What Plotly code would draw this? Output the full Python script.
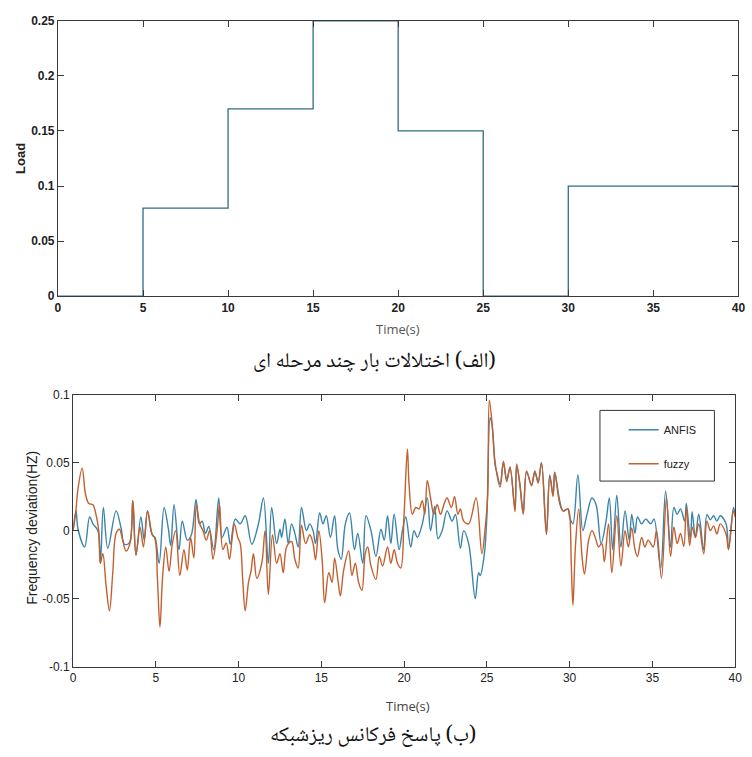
import plotly.graph_objects as go

# ---- multi-step load disturbance ----
load_t = [0, 5, 10, 15, 20, 25, 30, 40]
load_v = [0, 0.08, 0.17, 0.25, 0.15, 0, 0.1, 0.1]

# ---- microgrid frequency response (turning points of each trace) ----
anfis_t = [0.0, 0.18, 0.3, 0.7, 1.0, 1.2, 1.5, 1.65, 1.83, 2.1, 2.6, 2.9, 3.1, 3.4, 3.6, 3.8,
           4.1, 4.3, 4.5, 4.8, 4.95, 5.2, 5.5, 5.75, 5.9, 6.1, 6.4, 6.6, 6.9, 7.15, 7.43, 7.63,
           7.8, 8.0, 8.2, 8.5, 8.8, 9.0, 9.3, 9.5, 9.8, 10.1, 10.4, 10.8, 11.2, 11.5, 11.8, 12.0,
           12.3, 12.5, 12.6, 12.8, 13.0, 13.2, 13.4, 13.6, 13.8, 14.1, 14.3, 14.5, 14.65, 14.9,
           15.1, 15.3, 15.55, 15.8, 16.0, 16.2, 16.45, 16.7, 17.0, 17.2, 17.5, 17.7, 18.0, 18.3,
           18.6, 18.8, 19.0, 19.2, 19.4, 19.7, 19.9, 20.1, 20.4, 20.6, 20.8, 21.1, 21.4, 21.6,
           21.85, 22.05, 22.3, 22.6, 22.9, 23.1, 23.4, 23.6, 23.9, 24.3, 24.5, 24.6, 24.85, 25.0,
           25.2, 25.3, 25.5, 25.6, 25.8, 26.0, 26.2, 26.4, 26.7, 26.8, 27.0, 27.2, 27.4, 27.7,
           27.9, 28.1, 28.3, 28.6, 28.8, 29.0, 29.1, 29.4, 29.6, 29.9, 30.0, 30.2, 30.5, 30.8,
           31.05, 31.35, 31.6, 31.9, 32.2, 32.4, 32.6, 32.85, 33.1, 33.35, 33.6, 33.75, 33.95,
           34.1, 34.35, 34.6, 34.9, 35.1, 35.5, 35.8, 36.1, 36.3, 36.5, 36.7, 36.95, 37.05, 37.3,
           37.4, 37.6, 37.8, 38.1, 38.3, 38.5, 38.7, 38.9, 39.1, 39.45, 39.6, 39.9, 40.0]
anfis_v = [0.0, 0.0145, 0.001, -0.012, 0.010, 0.005, 0.0, -0.024, 0.017, -0.013, 0.0145, 0.002,
           -0.010, -0.009, 0.022, -0.018, 0.010, -0.007, 0.0145, -0.0035, -0.005, -0.024, 0.017,
           0.002, -0.011, 0.019, -0.014, 0.007, -0.007, -0.003, 0.023, 0.005, 0.007, -0.002, 0.003,
           -0.014, 0.024, -0.005, 0.0025, -0.010, 0.0085, 0.005, 0.011, -0.010, 0.005, 0.024,
           -0.024, 0.017, -0.0095, 0.001, -0.005, 0.0085, -0.0095, 0.005, -0.002, -0.012, 0.017,
           0.0, 0.005, 0.0, -0.0095, 0.013, 0.005, 0.011, -0.005, 0.011, -0.014, -0.021, 0.005,
           0.013, -0.014, -0.002, -0.024, 0.011, 0.0, -0.019, 0.001, -0.007, 0.011, -0.0095, 0.012,
           -0.014, 0.0, 0.010, -0.012, 0.0, -0.005, 0.005, 0.024, 0.0, 0.018, -0.006, 0.0, 0.0145,
           0.007, 0.012, -0.013, 0.0, -0.0095, -0.050, -0.031, -0.033, -0.017, 0.010, 0.083, 0.079,
           0.048, 0.043, 0.034, 0.050, 0.038, 0.046, 0.016, 0.048, 0.034, 0.013, 0.043, 0.034,
           0.043, 0.036, 0.050, -0.002, 0.041, 0.026, 0.043, 0.022, 0.0145, 0.016, 0.010, 0.005,
           0.041, 0.0, 0.012, 0.024, 0.019, -0.0095, 0.007, 0.024, -0.014, 0.026, -0.012, 0.0145,
           -0.007, 0.012, -0.002, 0.010, 0.005, 0.0085, 0.005, 0.0085, -0.0275, 0.029, -0.012,
           0.017, 0.012, 0.016, 0.007, 0.020, -0.007, 0.014, -0.005, 0.012, -0.014, 0.012, 0.008,
           0.011, 0.007, 0.011, 0.005, -0.013, 0.017, 0.012]

fuzzy_t = [0.0, 0.15, 0.3, 0.55, 0.75, 0.95, 1.2, 1.4, 1.55, 1.65, 1.8, 2.0, 2.2, 2.4, 2.6, 2.8,
           3.0, 3.2, 3.45, 3.62, 3.8, 4.05, 4.25, 4.5, 4.75, 4.95, 5.1, 5.25, 5.4, 5.6, 5.8, 6.0,
           6.2, 6.45, 6.7, 6.9, 7.1, 7.3, 7.45, 7.65, 7.85, 8.05, 8.25, 8.45, 8.7, 8.85, 9.05,
           9.25, 9.45, 9.6, 9.75, 9.95, 10.1, 10.25, 10.4, 10.6, 10.75, 10.9, 11.1, 11.4, 11.6,
           11.8, 12.05, 12.3, 12.5, 12.7, 12.9, 13.2, 13.4, 13.6, 13.8, 14.05, 14.3, 14.5, 14.65,
           14.85, 15.05, 15.2, 15.45, 15.65, 15.8, 16.0, 16.15, 16.35, 16.65, 16.85, 17.05, 17.25,
           17.45, 17.65, 17.8, 18.0, 18.3, 18.5, 18.7, 19.0, 19.2, 19.4, 19.6, 19.8, 20.0, 20.2,
           20.3, 20.5, 20.7, 20.9, 21.1, 21.25, 21.4, 21.6, 21.8, 22.0, 22.2, 22.4, 22.6, 22.85,
           23.05, 23.25, 23.4, 23.6, 23.9, 24.35, 24.7, 24.9, 25.05, 25.15, 25.35, 25.5, 25.8,
           26.0, 26.2, 26.4, 26.7, 26.8, 27.0, 27.2, 27.4, 27.7, 27.9, 28.1, 28.3, 28.6, 28.8,
           29.0, 29.1, 29.4, 29.6, 29.9, 30.0, 30.1, 30.2, 30.35, 30.55, 30.75, 30.9, 31.15,
           31.35, 31.55, 31.75, 31.95, 32.1, 32.35, 32.55, 32.85, 33.1, 33.35, 33.55, 33.75,
           33.95, 34.1, 34.35, 34.55, 34.75, 35.05, 35.25, 35.55, 35.85, 36.1, 36.3, 36.5, 36.7,
           36.9, 37.05, 37.25, 37.4, 37.6, 37.8, 38.1, 38.3, 38.5, 38.7, 38.9, 39.1, 39.45, 39.6,
           39.9, 40.0]
fuzzy_v = [0.0, 0.012, 0.031, 0.046, 0.027, 0.020, 0.019, 0.011, 0.0, -0.024, -0.017, -0.041,
           -0.059, -0.031, -0.002, 0.001, -0.007, -0.015, -0.009, 0.022, -0.018, 0.0025, -0.012,
           0.0145, -0.002, -0.006, -0.036, -0.071, -0.036, -0.012, -0.030, -0.0095, 0.0, -0.033,
           -0.014, -0.029, -0.005, -0.020, 0.019, 0.005, 0.0, -0.007, 0.0, -0.021, 0.0, 0.019,
           -0.014, -0.009, -0.021, -0.007, 0.005, -0.005, -0.0095, -0.036, -0.059, -0.038, -0.030,
           -0.017, -0.035, -0.024, 0.0, -0.047, -0.003, -0.024, -0.017, -0.031, -0.012, -0.008,
           -0.021, -0.0275, 0.004, -0.0095, -0.003, -0.0095, -0.0215, 0.0, -0.0215, -0.053, -0.031,
           -0.038, -0.020, -0.036, -0.048, -0.029, -0.015, -0.033, -0.024, -0.038, -0.044, -0.017,
           -0.012, -0.026, -0.036, -0.019, -0.026, -0.012, -0.024, -0.014, -0.024, -0.0275, 0.012,
           0.060, 0.034, 0.012, 0.017, 0.016, 0.022, 0.012, 0.037, 0.024, 0.012, 0.019, 0.012,
           0.019, 0.024, 0.017, 0.025, 0.012, 0.016, 0.007, 0.005, 0.024, -0.017, 0.002, 0.026,
           0.096, 0.074, 0.050, 0.032, 0.051, 0.036, 0.047, 0.014, 0.049, 0.033, 0.012, 0.044,
           0.033, 0.044, 0.035, 0.050, -0.003, 0.040, 0.025, 0.043, 0.020, 0.0145, 0.016, 0.012,
           -0.024, -0.055, -0.012, 0.016, -0.019, -0.032, -0.007, 0.0, -0.005, -0.012, -0.0095,
           -0.023, 0.005, -0.031, 0.011, -0.026, 0.0, -0.012, 0.002, -0.014, -0.019, -0.005,
           -0.012, -0.007, -0.012, 0.0, -0.035, 0.024, -0.019, 0.0025, -0.0095, -0.002, -0.0115,
           0.017, -0.011, 0.0025, -0.005, 0.005, -0.017, 0.007, 0.0, 0.0035, -0.0025, 0.005,
           -0.0025, -0.014, 0.0145, 0.010]

caption_a = "\u200f(الف) اختلالات بار چند مرحله ای"
caption_b = "\u200f(ب) پاسخ فرکانس ریزشبکه"

W, H = 752, 757
def px_x(p):
    return p / W
def px_y(p):
    return 1 - p / H

STEP_COLOR = "#2f6c86"
ANFIS_COLOR = "#3b84aa"
FUZZY_COLOR = "#c2602f"
AXIS_COLOR = "#3a3a3a"
TICK_FONT = "Liberation Sans, Arial, sans-serif"
ARABIC_FONT = "Noto Naskh Arabic, Times New Roman, DejaVu Sans, serif"

fig = go.Figure()

fig.add_trace(go.Scatter(x=load_t, y=load_v, mode="lines", line=dict(color=STEP_COLOR, width=1.3, shape="hv"),
                         showlegend=False, xaxis="x", yaxis="y"))
fig.add_trace(go.Scatter(x=anfis_t, y=anfis_v, mode="lines", name="ANFIS", legendgroup="a",
                         line=dict(color=ANFIS_COLOR, width=1.4, shape="spline", smoothing=1.0),
                         xaxis="x2", yaxis="y2"))
fig.add_trace(go.Scatter(x=fuzzy_t, y=fuzzy_v, mode="lines", name="fuzzy", legendgroup="b",
                         line=dict(color=FUZZY_COLOR, width=1.4, shape="spline", smoothing=1.0),
                         xaxis="x2", yaxis="y2"))

axis_common = dict(showline=True, linecolor=AXIS_COLOR, linewidth=1, mirror="ticks", ticks="inside",
                   ticklen=6, tickcolor=AXIS_COLOR, showgrid=False, zeroline=False)

fig.update_layout(
    width=W, height=H,
    margin=dict(l=0, r=0, t=0, b=0),
    paper_bgcolor="white", plot_bgcolor="white",
    xaxis=dict(domain=[px_x(55.7), px_x(745.3)], range=[0, 40], tick0=0, dtick=5, anchor="y",
               tickfont=dict(family=TICK_FONT, size=12, color="#222", weight="bold"), **axis_common),
    yaxis=dict(domain=[px_y(294.7), px_y(14)], range=[0, 0.25], tickvals=[0, 0.05, 0.1, 0.15, 0.2, 0.25],
               ticktext=["0", "0.05", "0.1", "0.15", "0.2", "0.25"], anchor="x",
               tickfont=dict(family=TICK_FONT, size=12, color="#222", weight="bold"), **axis_common),
    xaxis2=dict(domain=[px_x(71), px_x(742)], range=[0, 40], tick0=0, dtick=5, anchor="y2",
                tickfont=dict(family=TICK_FONT, size=12, color="#222"), **axis_common),
    yaxis2=dict(domain=[px_y(672), px_y(395)], range=[-0.1, 0.1], tickvals=[-0.1, -0.05, 0, 0.05, 0.1],
                ticktext=["-0.1", "-0.05", "0", "0.05", "0.1"], anchor="x2",
                tickfont=dict(family=TICK_FONT, size=12, color="#222"), **axis_common),
    legend=dict(x=px_x(629), y=px_y(416), xanchor="left", yanchor="top", bgcolor="rgba(0,0,0,0)",
                borderwidth=0, tracegroupgap=15,
                font=dict(family=TICK_FONT, size=11, color="#222")),
    shapes=[dict(type="rect", xref="paper", yref="paper", x0=px_x(605), x1=px_x(721),
                 y0=px_y(483), y1=px_y(411), line=dict(color="#333", width=1), fillcolor="rgba(0,0,0,0)")],
    annotations=[
        dict(text="Time(s)", x=px_x(400), y=px_y(328), xref="paper", yref="paper", showarrow=False,
             font=dict(family="Open Sans, sans-serif", size=13, color="#555"), xanchor="center", yanchor="middle"),
        dict(text="Load", x=px_x(17), y=px_y(154), xref="paper", yref="paper", showarrow=False, textangle=-90,
             font=dict(family=TICK_FONT, size=13, color="#222", weight="bold"), xanchor="center", yanchor="middle"),
        dict(text=caption_a, x=px_x(376), y=px_y(362), xref="paper", yref="paper", showarrow=False,
             font=dict(family=ARABIC_FONT, size=21, color="#111"), xanchor="center", yanchor="middle"),
        dict(text="Time(s)", x=px_x(410), y=px_y(712), xref="paper", yref="paper", showarrow=False,
             font=dict(family="Open Sans, sans-serif", size=13, color="#444"), xanchor="center", yanchor="middle"),
        dict(text="Frequency deviation(HZ)", x=px_x(30), y=px_y(531), xref="paper", yref="paper", showarrow=False,
             textangle=-90, font=dict(family=TICK_FONT, size=14, color="#222"), xanchor="center", yanchor="middle"),
        dict(text=caption_b, x=px_x(375), y=px_y(743), xref="paper", yref="paper", showarrow=False,
             font=dict(family=ARABIC_FONT, size=21, color="#111"), xanchor="center", yanchor="middle"),
    ],
)

fig.write_html("out.html")
